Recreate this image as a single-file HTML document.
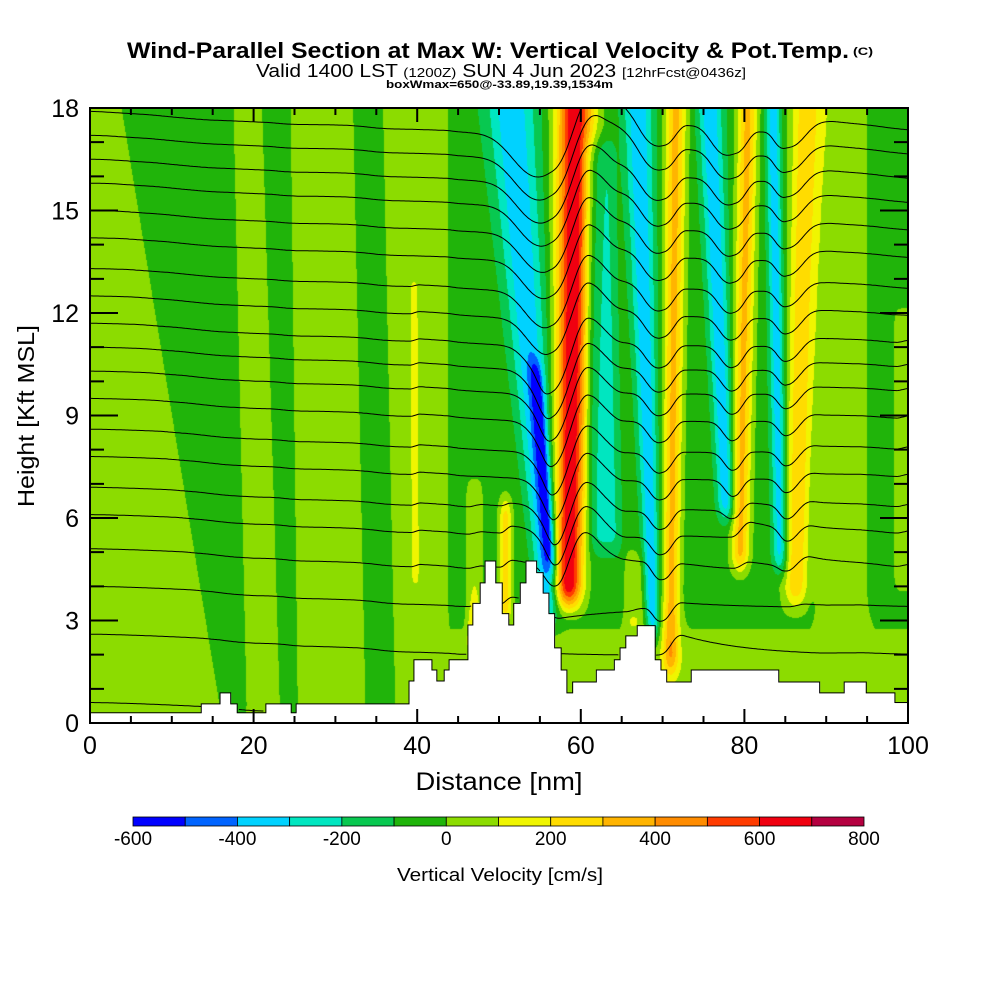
<!DOCTYPE html>
<html><head><meta charset="utf-8">
<style>
html,body{margin:0;padding:0;background:#fff;width:1000px;height:1000px;overflow:hidden;font-family:"Liberation Sans",Arial,sans-serif}
#wrap{position:relative;width:1000px;height:1000px}
#field{position:absolute;left:90px;top:108px}
#ov{position:absolute;left:0;top:0}
</style></head>
<body>
<div id="wrap">
<canvas id="field" width="818" height="615"></canvas>
<svg id="ov" width="1000" height="1000" xmlns="http://www.w3.org/2000/svg">
<defs><clipPath id="pc"><rect x="90" y="108" width="818" height="615"/></clipPath></defs>
<g id="terrain-g"></g>
<g id="contours" clip-path="url(#pc)"></g>
<rect x="90" y="108" width="818" height="615" fill="none" stroke="#000" stroke-width="2"/>
<g id="ticks"></g>
<g id="ylabels"></g>
<g id="xlabels"></g>
<text x="127" y="58" font-size="22" font-weight="bold" textLength="722" lengthAdjust="spacingAndGlyphs">Wind-Parallel Section at Max W: Vertical Velocity &amp; Pot.Temp.</text>
<text x="853" y="55" font-size="11" font-weight="bold" textLength="20" lengthAdjust="spacingAndGlyphs">(C)</text>
<text x="256" y="77" font-size="18" textLength="490" lengthAdjust="spacingAndGlyphs">Valid 1400 LST <tspan font-size="13">(1200Z)</tspan> SUN 4 Jun 2023 <tspan font-size="13">[12hrFcst@0436z]</tspan></text>
<text x="386" y="88" font-size="11" font-weight="bold" textLength="227" lengthAdjust="spacingAndGlyphs">boxWmax=650@-33.89,19.39,1534m</text>
<text x="499" y="790" font-size="25" text-anchor="middle" textLength="167" lengthAdjust="spacingAndGlyphs">Distance [nm]</text>
<text transform="translate(34,416) rotate(-90)" font-size="23" text-anchor="middle" textLength="182" lengthAdjust="spacingAndGlyphs">Height [Kft MSL]</text>
<g id="cbar"></g>
<text x="500" y="881" font-size="18" text-anchor="middle" textLength="206" lengthAdjust="spacingAndGlyphs">Vertical Velocity [cm/s]</text>
</svg>
</div>
<script>
// ---- data ----
var binColors = ["#0000ff","#0064ff","#00d2ff","#00e6c0","#08c850","#20b40a","#8cdc00","#f0f500","#ffdc00","#ffb400","#ff8c00","#ff3c00","#f00010","#b40040"];
var cbarTicks = [-600,-400,-200,0,200,400,600,800];
var yTicks = [0,3,6,9,12,15,18];
var xTicks = [0,20,40,60,80,100];
// background w (cm/s) at top / surface
var bgX =    [0, 40, 43.5, 44, 47, 60, 66, 70, 88, 90, 94, 96, 100];
var bgTopV = [50,50, 50, -50,-50,-50,-50,-50,-50, 50, 50,-50,-50];
var bgBotV = [50,50, 50,  50, 50, 50, 50, 50, 50, 50, 50, 50, 50];
// tilted bands: center nm at base height, at 18 kft; half widths; amplitude; vertical extent; shape exponent
var bandXb =  [17.5,24.3,35.5,39.8,55.8,56.3,58.5,50.8,47.0,63.0,68.8,71.0,77.8,79.5,84.4,86.3,99.5,66.5];
var bandHb =  [0.5, 0.5, 0.5, 3,   4,   4.5, 3,   3,   2,   5,   3,   2,   6,   5,   4.5, 4,   5,   2.5];
var bandXt =  [10.7,22.8,34.0,39.5,51.5,52.2,59.3,50.8,47.0,62.0,67.0,71.6,75.8,80.4,83.5,87.6,99.5,66.5];
var bandWb =  [1.8, 1.2, 2.0, 0.5, 1.3, 0.8, 1.6, 0.8, 1.0, 2.0, 0.8, 1.0, 1.0, 1.1, 0.9, 1.5, 1.2, 1.2];
var bandWt =  [7.5, 1.9, 2.0, 0.5, 3.0, 0.8, 2.2, 0.8, 1.0, 2.0, 1.8, 1.3, 1.5, 1.2, 0.9, 1.8, 1.2, 1.2];
var bandAmp = [-100,-100,-100,80, -330,-300,750,300,150,-180,-330,380,-330,380,-320,330,150,120];
var bandLo =  [0,   0,   0,   4,   3,   4.5, 3.5, 3,   2,   5,   2.5, 1.5, 6,   4.5, 4.5, 3.5, 4,   2.5];
var bandHi =  [20,  20,  20,  13,  19,  10.5,19,  6.5, 7,   17,  19,  19,  19,  19,  19,  19,  12,  5];
var bandP =   [4,   4,   4,   4,   2,   2,   2,   2,   4,   4,   2,   2,   2,   2,   2,   2,   4,   4];
// terrain steps: start nm and height kft
var terrX = [0,13.6,15.9,17.2,18.0,21.5,24.6,25.2,39.0,39.6,41.8,42.4,43.3,43.9,46.2,46.8,47.7,48.3,49.6,50.4,51.2,51.8,52.6,53.3,54.6,55.4,56.1,56.8,57.6,58.3,59.0,61.9,64.1,64.8,65.5,66.9,69.1,69.8,70.5,73.5,84.2,89.2,92.2,94.9,98.4];
var terrH = [0.3,0.56,0.88,0.56,0.3,0.56,0.3,0.56,1.23,1.85,1.55,1.23,1.55,1.85,2.87,3.5,4.1,4.74,4.1,3.2,2.87,3.5,4.1,4.74,4.4,3.8,3.2,2.2,1.55,0.88,1.2,1.55,1.85,2.2,2.55,2.85,1.85,1.55,1.2,1.55,1.2,0.88,1.2,0.88,0.6];
// potential temperature contour base heights (kft at left edge)
var thetaLevels = [0.6,2.6,4.0,5.1,6.1,6.9,7.8,8.6,9.5,10.3,11.0,11.7,12.5,13.3,14.2,15.0,15.8,16.5,17.2,17.9];

// ---- axes ----
var X0=90,X1=908,Y0=723,Y1=108;
function sx(v){return X0+(X1-X0)*v/100;}
function sy(v){return Y0-(Y0-Y1)*v/18;}
function lerpArr(xs,vs,x){if(x<=xs[0])return vs[0];for(var i=1;i<xs.length;i++){if(x<=xs[i]){var t=(x-xs[i-1])/(xs[i]-xs[i-1]);return vs[i-1]+(vs[i]-vs[i-1])*t;}}return vs[vs.length-1];}
function terr(x){var h=terrH[0];for(var i=0;i<terrX.length;i++){if(x>=terrX[i])h=terrH[i];}return h;}
function sm(t){t=Math.max(0,Math.min(1,t));return t*t*(3-2*t);}
function field(x,h){
  var tp=lerpArr(bgX,bgTopV,x),bt=lerpArr(bgX,bgBotV,x);
  var v=bt+(tp-bt)*sm((h-1.5)/2.5);
  for(var i=0;i<bandXb.length;i++){
    if(h<bandLo[i]-1||h>bandHi[i]+1)continue;
    var f=(h-bandHb[i])/(18-bandHb[i]);
    var xc=bandXb[i]+(bandXt[i]-bandXb[i])*f;
    var w=Math.max(0.3,bandWb[i]+(bandWt[i]-bandWb[i])*f);
    var env=sm((h-bandLo[i])/1.2+0.5)*sm((bandHi[i]-h)/1.2+0.5);
    v+=bandAmp[i]*Math.exp(-Math.pow(Math.abs(x-xc)/w,bandP[i]))*env;
  }
  return v;
}
// ---- field raster ----
var cv=document.getElementById('field'),ctx=cv.getContext('2d');
var W=cv.width,H=cv.height,img=ctx.createImageData(W,H);
var rgb=binColors.map(function(c){return [parseInt(c.substr(1,2),16),parseInt(c.substr(3,2),16),parseInt(c.substr(5,2),16)];});
for(var j=0;j<H;j++){
  var h=18*(H-j-0.5)/H;
  for(var i=0;i<W;i++){
    var x=100*(i+0.5)/W,k=(j*W+i)*4;
    if(h<terr(x)){img.data[k]=255;img.data[k+1]=255;img.data[k+2]=255;img.data[k+3]=255;continue;}
    var b=Math.floor((field(x,h)+600)/100);b=Math.max(0,Math.min(13,b));
    img.data[k]=rgb[b][0];img.data[k+1]=rgb[b][1];img.data[k+2]=rgb[b][2];img.data[k+3]=255;
  }
}
ctx.putImageData(img,0,0);
var NS='http://www.w3.org/2000/svg';
// terrain outline
var tg=document.getElementById('terrain-g'),td='M'+sx(0)+' '+sy(terrH[0]);
for(var i=1;i<terrX.length;i++){td+=' L'+sx(terrX[i])+' '+sy(terrH[i-1])+' L'+sx(terrX[i])+' '+sy(terrH[i]);}
td+=' L'+sx(100)+' '+sy(terrH[terrH.length-1]);
var tp=document.createElementNS(NS,'path');
tp.setAttribute('d',td);tp.setAttribute('fill','none');tp.setAttribute('stroke','#000');tp.setAttribute('stroke-width','1');


tg.appendChild(tp);
// theta contours: streamline-like displacement driven by w
var cg=document.getElementById('contours');
thetaLevels.forEach(function(h0,li){
  var D=0,d='',pen=false;
  for(var x=0;x<=100.001;x+=0.2){
    var hh=h0+D-0.014*Math.min(x,45);
    if(hh>terr(x)+0.05){d+=(pen?' L':' M')+sx(x).toFixed(1)+' '+sy(hh).toFixed(1);pen=true;}else pen=false;
    var w=field(x,Math.max(hh,0));
    var we=(w>0?1:-1)*Math.max(0,Math.abs(w)-40);
    D+=(0.0011*we-0.12*D)*0.2;
  }
  var p=document.createElementNS(NS,'path');
  p.setAttribute('d',d);p.setAttribute('fill','none');p.setAttribute('stroke','#000');p.setAttribute('stroke-width','1');
  
  
  cg.appendChild(p);
});
// ticks
var tk=document.getElementById('ticks'),dd='';
for(var v=0;v<=100;v+=5){var L=(v%20===0)?14:7;dd+='M'+sx(v)+' '+Y0+' v'+(-L)+' M'+sx(v)+' '+Y1+' v'+L+' ';}
for(var v=0;v<=18;v+=1){var L=(v%3===0)?28:14;dd+='M'+X0+' '+sy(v)+' h'+L+' M'+X1+' '+sy(v)+' h'+(-L)+' ';}
var tpp=document.createElementNS(NS,'path');tpp.setAttribute('d',dd);tpp.setAttribute('stroke','#000');tpp.setAttribute('stroke-width','2');


tk.appendChild(tpp);
var yl=document.getElementById('ylabels');
yTicks.forEach(function(v){var t=document.createElementNS(NS,'text');t.setAttribute('x',79);t.setAttribute('y',sy(v)+9);t.setAttribute('font-size','25');t.setAttribute('text-anchor','end');t.textContent=v;


yl.appendChild(t);});
var xl=document.getElementById('xlabels');
xTicks.forEach(function(v){var t=document.createElementNS(NS,'text');t.setAttribute('x',sx(v));t.setAttribute('y',754);t.setAttribute('font-size','25');t.setAttribute('text-anchor','middle');t.textContent=v;


xl.appendChild(t);});
// colorbar
var cb=document.getElementById('cbar'),CB0=133,CB1=864,cw=(CB1-CB0)/binColors.length;
binColors.forEach(function(c,i){var r=document.createElementNS(NS,'rect');r.setAttribute('x',CB0+i*cw);r.setAttribute('y',817);r.setAttribute('width',cw);r.setAttribute('height',9);r.setAttribute('fill',c);r.setAttribute('stroke','#000');r.setAttribute('stroke-width','0.8');


cb.appendChild(r);});
cbarTicks.forEach(function(v){var t=document.createElementNS(NS,'text');t.setAttribute('x',CB0+(v+600)/1400*(CB1-CB0));t.setAttribute('y',845);t.setAttribute('font-size','19');t.setAttribute('text-anchor','middle');t.textContent=v;


cb.appendChild(t);});
</script>
</body></html>
